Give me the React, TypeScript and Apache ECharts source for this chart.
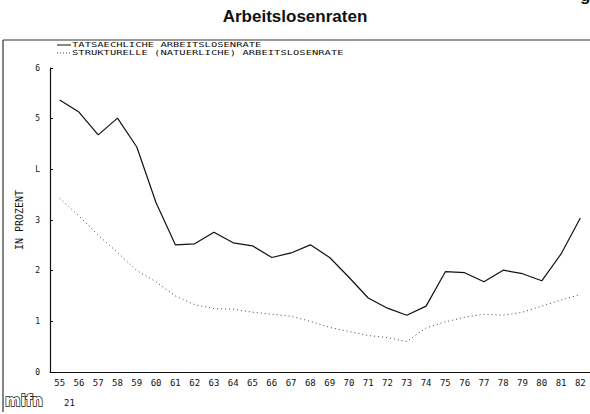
import React, { useEffect, useRef } from "react";
import * as echarts from "echarts";

const years = ["55","56","57","58","59","60","61","62","63","64","65","66","67","68","69","70","71","72","73","74","75","76","77","78","79","80","81","82"];
const actualRate = [5.37,5.13,4.68,5.01,4.44,3.34,2.51,2.53,2.76,2.55,2.49,2.26,2.35,2.51,2.26,1.87,1.46,1.26,1.12,1.30,1.98,1.96,1.78,2.01,1.94,1.80,2.33,3.04];
const structuralRate = [3.43,3.08,2.70,2.36,2.00,1.78,1.50,1.33,1.25,1.24,1.18,1.14,1.10,1.00,0.88,0.80,0.72,0.68,0.60,0.87,0.99,1.08,1.14,1.12,1.18,1.30,1.42,1.53];
const yTicks = [0, 1, 2, 3, 4, 5, 6];
const yTickLabels = ["0", "1", "2", "3", "L", "5", "6"];

const mono = "'DejaVu Sans Mono', 'Liberation Mono', monospace";

export default function App() {
  const ref = useRef<HTMLDivElement>(null);
  useEffect(() => {
    if (!ref.current) return;
    const chart = echarts.init(ref.current, null, { renderer: "svg" });
    chart.setOption({
      animation: false,
      backgroundColor: "#ffffff",
      grid: { left: 50, right: -6, top: 68, bottom: 42, containLabel: false },
      xAxis: {
        type: "category",
        data: years,
        boundaryGap: true,
        axisLine: { lineStyle: { color: "#111", width: 1.2 } },
        axisTick: { inside: true, length: 4, lineStyle: { color: "#111" } },
        axisLabel: { color: "#111", fontFamily: mono, fontSize: 9, margin: 6, interval: 0 },
        splitLine: { show: false },
      },
      yAxis: {
        type: "value",
        min: 0,
        max: 6,
        interval: 1,
        name: "IN PROZENT",
        nameLocation: "middle",
        nameGap: 24,
        nameRotate: 90,
        nameTextStyle: { color: "#111", fontFamily: mono, fontSize: 10 },
        axisLine: { show: true, lineStyle: { color: "#111", width: 1.2 } },
        axisTick: { show: true, inside: true, length: 3, lineStyle: { color: "#111" } },
        axisLabel: {
          color: "#111",
          fontFamily: mono,
          fontSize: 8,
          margin: 10,
          formatter: (v: number) => yTickLabels[yTicks.indexOf(v)] ?? String(v),
        },
        splitLine: { show: false },
      },
      series: [
        {
          name: "TATSAECHLICHE ARBEITSLOSENRATE",
          type: "line",
          data: actualRate,
          symbol: "none",
          lineStyle: { color: "#111", width: 1.2 },
        },
        {
          name: "STRUKTURELLE (NATUERLICHE) ARBEITSLOSENRATE",
          type: "line",
          data: structuralRate,
          symbol: "none",
          lineStyle: { color: "#444", width: 1, type: [1, 3] },
        },
      ],
      graphic: [
        {
          type: "text",
          left: "center",
          top: 8,
          style: { text: "Arbeitslosenraten", font: "bold 17px 'Liberation Sans', Arial, sans-serif", fill: "#111" },
        },
        {
          type: "text",
          x: 580,
          y: -13,
          style: { text: "g", font: "bold 17px 'Liberation Sans', Arial, sans-serif", fill: "#111" },
        },
        { type: "line", shape: { x1: 3, y1: 40, x2: 590, y2: 40 }, style: { stroke: "#333", lineWidth: 1 } },
        { type: "line", shape: { x1: 3, y1: 40, x2: 3, y2: 412 }, style: { stroke: "#333", lineWidth: 1.2 } },
        { type: "line", shape: { x1: 57, y1: 45, x2: 71, y2: 45 }, style: { stroke: "#111", lineWidth: 1 } },
        { type: "line", shape: { x1: 57, y1: 53, x2: 71, y2: 53 }, style: { stroke: "#444", lineWidth: 1, lineDash: [1, 2] } },
        {
          type: "text",
          x: 72,
          y: 45,
          scaleY: 0.68,
          style: { text: "TATSAECHLICHE ARBEITSLOSENRATE", font: `10.5px ${mono}`, fill: "#111", verticalAlign: "middle" },
        },
        {
          type: "text",
          x: 72,
          y: 53,
          scaleY: 0.68,
          style: { text: "STRUKTURELLE (NATUERLICHE) ARBEITSLOSENRATE", font: `10.5px ${mono}`, fill: "#111", verticalAlign: "middle" },
        },
        {
          type: "text",
          x: 5,
          y: 401,
          style: { text: "mifn", font: "bold 15px 'DejaVu Sans', sans-serif", fill: "#fff", stroke: "#111", lineWidth: 1.4, verticalAlign: "middle" },
        },
        {
          type: "text",
          x: 64,
          y: 403,
          style: { text: "21", font: `9px ${mono}`, fill: "#111", verticalAlign: "middle" },
        },
      ],
    });
    return () => chart.dispose();
  }, []);
  return <div ref={ref} style={{ position: "fixed", left: 0, top: 0, width: 590, height: 414 }} />;
}
